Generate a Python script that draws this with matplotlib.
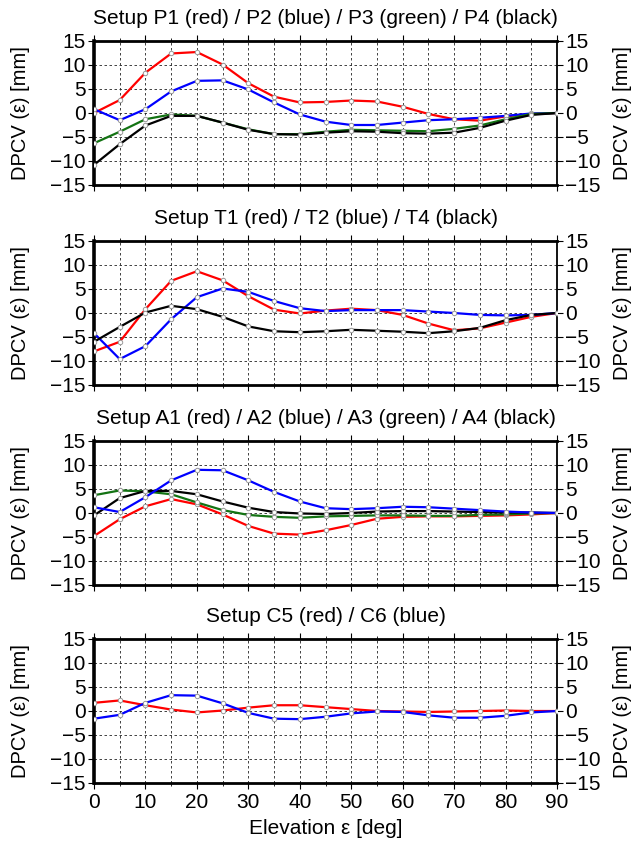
import numpy as np
import matplotlib
matplotlib.use("Agg")
import matplotlib.pyplot as plt
from matplotlib.ticker import MultipleLocator

plt.rcParams['font.family'] = ['Liberation Sans', 'DejaVu Sans']

# elevation angles (deg)
elev = [0, 5, 10, 15, 20, 25, 30, 35, 40, 45, 50, 55, 60, 65, 70, 75, 80, 85, 90]

# Setup P
p1 = [0.0, 2.7, 8.4, 12.4, 12.7, 10.1, 6.2, 3.4, 2.2, 2.3, 2.6, 2.4, 1.3, -0.2, -1.3, -1.6, -0.7, -0.2, 0.0]
p2 = [0.8, -1.5, 0.8, 4.5, 6.7, 6.8, 4.9, 2.2, -0.3, -1.8, -2.5, -2.5, -2.0, -1.5, -1.3, -1.0, -0.6, -0.1, 0.0]
p3 = [-6.3, -3.9, -1.3, -0.3, -0.6, -2.0, -3.4, -4.4, -4.4, -3.9, -3.5, -3.6, -3.7, -3.8, -3.3, -2.6, -1.3, -0.2, 0.0]
p4 = [-10.8, -6.5, -2.6, -0.6, -0.6, -2.0, -3.5, -4.4, -4.5, -4.1, -3.8, -3.9, -4.2, -4.3, -4.1, -3.1, -1.6, -0.4, 0.0]

# Setup T
t1 = [-8.0, -6.0, 0.8, 6.7, 8.7, 6.8, 3.5, 0.7, -0.1, 0.5, 0.9, 0.6, -0.4, -2.2, -3.6, -3.2, -2.0, -0.8, 0.0]
t2 = [-4.2, -9.6, -6.9, -1.3, 3.3, 5.1, 4.4, 2.5, 1.0, 0.4, 0.6, 0.6, 0.6, 0.3, 0.0, -0.4, -0.5, -0.4, 0.0]
t4 = [-6.0, -2.9, 0.1, 1.5, 0.8, -0.8, -2.8, -3.8, -4.0, -3.8, -3.5, -3.7, -3.9, -4.2, -3.8, -3.1, -1.5, -0.4, 0.0]

# Setup A
a1 = [-4.8, -1.3, 1.4, 2.9, 1.8, -0.3, -2.7, -4.3, -4.5, -3.6, -2.5, -1.2, -0.8, -0.7, -0.7, -0.6, -0.5, -0.3, 0.0]
a2 = [1.2, 0.2, 3.3, 6.8, 9.0, 8.9, 6.8, 4.4, 2.4, 1.0, 0.8, 1.0, 1.3, 1.2, 0.9, 0.6, 0.3, 0.1, 0.0]
a3 = [3.7, 4.7, 4.5, 3.9, 2.2, 0.6, -0.4, -0.8, -1.0, -0.7, -0.6, -0.5, -0.5, -0.6, -0.6, -0.4, -0.3, -0.1, 0.0]
a4 = [-0.5, 3.1, 4.6, 4.6, 3.9, 2.4, 1.1, 0.2, -0.1, -0.2, 0.0, 0.3, 0.4, 0.4, 0.3, 0.2, 0.1, 0.1, 0.0]

# Setup C
c5 = [1.7, 2.2, 1.2, 0.3, -0.3, 0.1, 0.7, 1.2, 1.2, 0.8, 0.4, 0.0, -0.1, -0.2, -0.1, 0.0, 0.1, 0.0, 0.0]
c6 = [-1.6, -0.8, 1.7, 3.3, 3.2, 1.6, -0.4, -1.6, -1.7, -1.2, -0.5, -0.1, -0.2, -0.9, -1.4, -1.4, -1.0, -0.3, 0.0]

red = '#ff0000'
blue = '#0000ff'
green = '#137313'
black = '#000000'

panels = [
    ("Setup P1 (red) / P2 (blue) / P3 (green) / P4 (black)",
     [(p1, red), (p2, blue), (p3, green), (p4, black)]),
    ("Setup T1 (red) / T2 (blue) / T4 (black)",
     [(t1, red), (t2, blue), (t4, black)]),
    ("Setup A1 (red) / A2 (blue) / A3 (green) / A4 (black)",
     [(a1, red), (a3, green), (a4, black), (a2, blue)]),
    ("Setup C5 (red) / C6 (blue)",
     [(c5, red), (c6, blue)]),
]

W, H = 643, 842
fig = plt.figure(figsize=(W / 100, H / 100), dpi=100)

left = 94 / W
width = 463 / W
height = 144 / H
tops = [41, 241, 441, 639]
fs = 15
fs_ylab = 14.5

for i, (title, series) in enumerate(panels):
    bottom = 1 - (tops[i] + 144) / H
    ax = fig.add_axes([left, bottom, width, height])
    for vals, col in series:
        ax.plot(elev, vals, color=col, lw=1.6, marker='o', ms=3.2,
                mfc='white', mec='#999999', mew=0.7, zorder=3)

    ax.set_xlim(0, 90)
    ax.set_ylim(-15, 15)
    ax.xaxis.set_major_locator(MultipleLocator(10))
    ax.xaxis.set_minor_locator(MultipleLocator(5))
    ax.yaxis.set_major_locator(MultipleLocator(5))
    ax.grid(True, which='both', axis='x', color='#222222', lw=0.6, linestyle=(0, (3, 3)))
    ax.grid(True, which='major', axis='y', color='#222222', lw=0.6, linestyle=(0, (3, 3)))

    ax.tick_params(axis='y', which='both', direction='out', length=4, width=0.8,
                   left=True, right=True, labelleft=True, labelright=True,
                   labelsize=fs, pad=2)
    ax.tick_params(axis='x', which='major', direction='out', length=4, width=0.8,
                   top=True, bottom=True, labelsize=fs, pad=3,
                   labelbottom=(i == 3))
    ax.tick_params(axis='x', which='minor', direction='out', length=2, width=0.6,
                   top=True, bottom=True)

    ax.spines['left'].set_linewidth(2.6)
    ax.spines['top'].set_linewidth(2.0)
    ax.spines['bottom'].set_linewidth(2.0)
    ax.spines['right'].set_linewidth(1.3)

    ax.text(0.5, 1 + 23 / 144, title, transform=ax.transAxes,
            ha='center', va='center', fontsize=fs)
    ax.set_ylabel("DPCV (\u03b5) [mm]", fontsize=fs_ylab)
    ax.yaxis.set_label_coords(-(94 - 30) / 463, 0.5)
    ax.text(1 + (623 - 557) / 463, 0.5, "DPCV (\u03b5) [mm]", transform=ax.transAxes,
            rotation=90, ha='center', va='center', fontsize=fs_ylab)

    if i == 3:
        ax.set_xlabel("Elevation \u03b5 [deg]", fontsize=fs, labelpad=5)

fig.savefig("out.png", dpi=100)
